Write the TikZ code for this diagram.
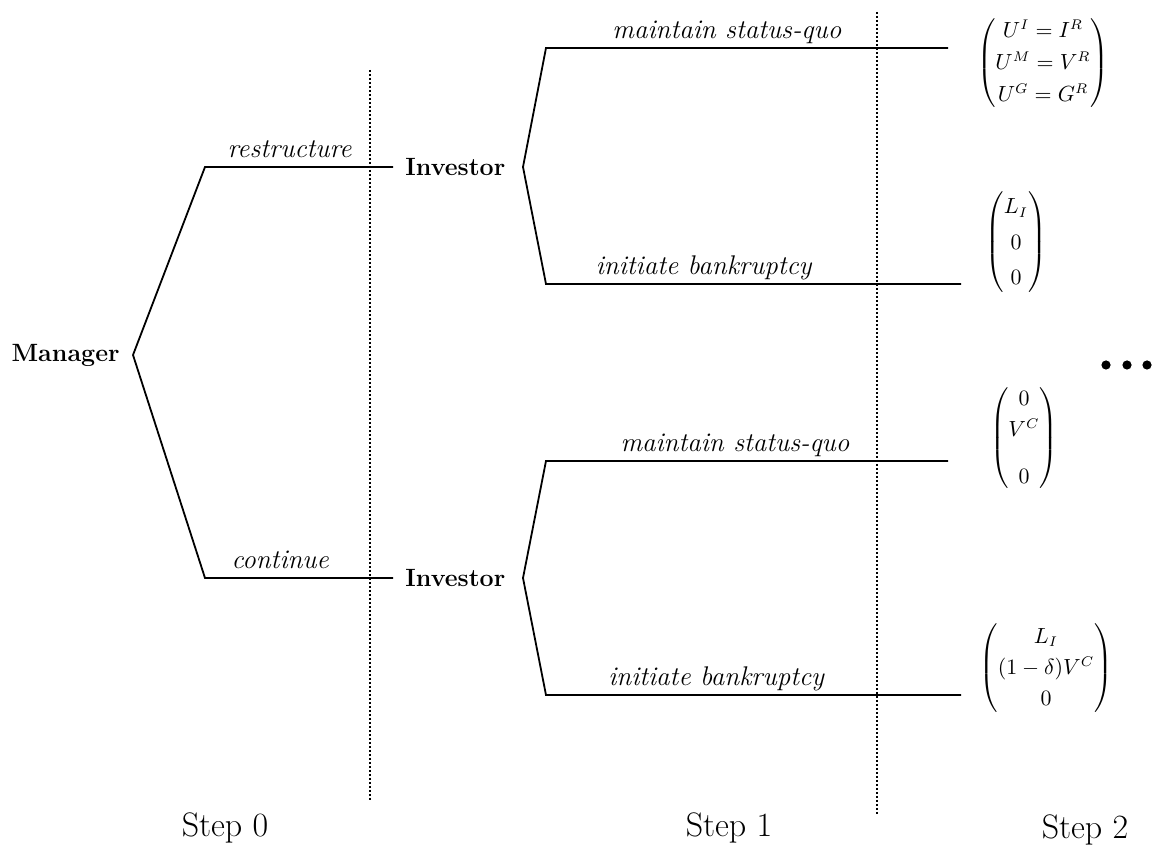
\documentclass[tikz,border=0pt]{standalone}
\usepackage{amsmath,amssymb}
\usepackage{tikz}
\usetikzlibrary{positioning,calc}

\begin{document}
\begin{tikzpicture}[
  x=0.5pt, y=-0.5pt,
  every node/.style={inner sep=1pt},
  player/.style   ={font=\fontsize{12.5}{15}\selectfont\bfseries},
  move/.style     ={font=\fontsize{13.5}{16}\selectfont\itshape,
                    anchor=base, yshift=4.5pt},
  branch/.style   ={draw=black, line width=0.9pt},
  stage/.style    ={draw=black, line width=1.2pt,
                    dash pattern=on 1.1pt off 0.9pt},
  payoff/.style   ={font=\fontsize{10.5}{13}\selectfont},
  steplabel/.style={font=\fontsize{17}{20}\selectfont}]

\useasboundingbox (0,0) rectangle (1153,849);

% ==========================  step 0  ================================
\node[player, anchor=east, inner xsep=6.5pt] (mgr) at (133,355) {Manager};
\coordinate (rs) at (205,167);
\coordinate (ct) at (205,578);
\node[player, anchor=west, inner xsep=6pt] (inv1) at (393,167) {Investor};
\node[player, anchor=west, inner xsep=6pt] (inv2) at (393,578) {Investor};

\draw[branch] (mgr.east) -- (rs)
  -- node[move, pos=0.45] {restructure} (inv1.west);
\draw[branch] (mgr.east) -- (ct)
  -- node[move, pos=0.40] {continue} (inv2.west);

% ==========================  step 1  ================================
\coordinate (v1) at (523,167);
\coordinate (v2) at (523,578);
\coordinate (sq1) at (546,48);   \coordinate (e1) at (948,48);
\coordinate (bk1) at (546,284);  \coordinate (e2) at (961,284);
\coordinate (sq2) at (546,461);  \coordinate (e3) at (948,461);
\coordinate (bk2) at (546,695);  \coordinate (e4) at (961,695);

\draw[branch] (v1) -- (sq1)
  -- node[move, pos=0.45] {maintain status-quo} (e1);
\draw[branch] (v1) -- (bk1)
  -- node[move, pos=0.38] {initiate bankruptcy} (e2);
\draw[branch] (v2) -- (sq2)
  -- node[move, pos=0.47] {maintain status-quo} (e3);
\draw[branch] (v2) -- (bk2)
  -- node[move, pos=0.41] {initiate bankruptcy} (e4);

% ==========================  payoffs  ===============================
\node[payoff] (pay1) at (1043,63)
  {$\renewcommand\arraystretch{1.22}\begin{pmatrix} U^{I} = I^{R}\\ U^{M} = V^{R}\\ U^{G} = G^{R}\end{pmatrix}$};
\node[payoff] (pay2) at (1016,242)
  {$\renewcommand\arraystretch{1.35}\begin{pmatrix} L_I\\ 0\\ 0\end{pmatrix}$};
\node[payoff] (pay3) at (1024,438)
  {$\renewcommand\arraystretch{1.2}\begin{pmatrix} 0\\ V^{C}\\[8pt] 0\end{pmatrix}$};
\node[payoff] (pay4) at (1046,668)
  {$\renewcommand\arraystretch{1.2}\begin{pmatrix} L_I\\ (1-\delta)V^{C}\\ 0\end{pmatrix}$};

\foreach \x in {1106,1127,1147}{\fill[black] (\x,365) circle[radius=2.3pt];}

% =======================  stage separators  =========================
\coordinate (s0t) at (370,70);  \coordinate (s0b) at (370,800);
\coordinate (s1t) at (877,12);  \coordinate (s1b) at (877,815);
\draw[stage] (s0t) -- (s0b);
\draw[stage] (s1t) -- (s1b);

\node[steplabel] (st0) at (225,828) {Step 0};
\node[steplabel] (st1) at (729,828) {Step 1};
\node[steplabel] (st2) at (1085,830) {Step 2};

\end{tikzpicture}
\end{document}
